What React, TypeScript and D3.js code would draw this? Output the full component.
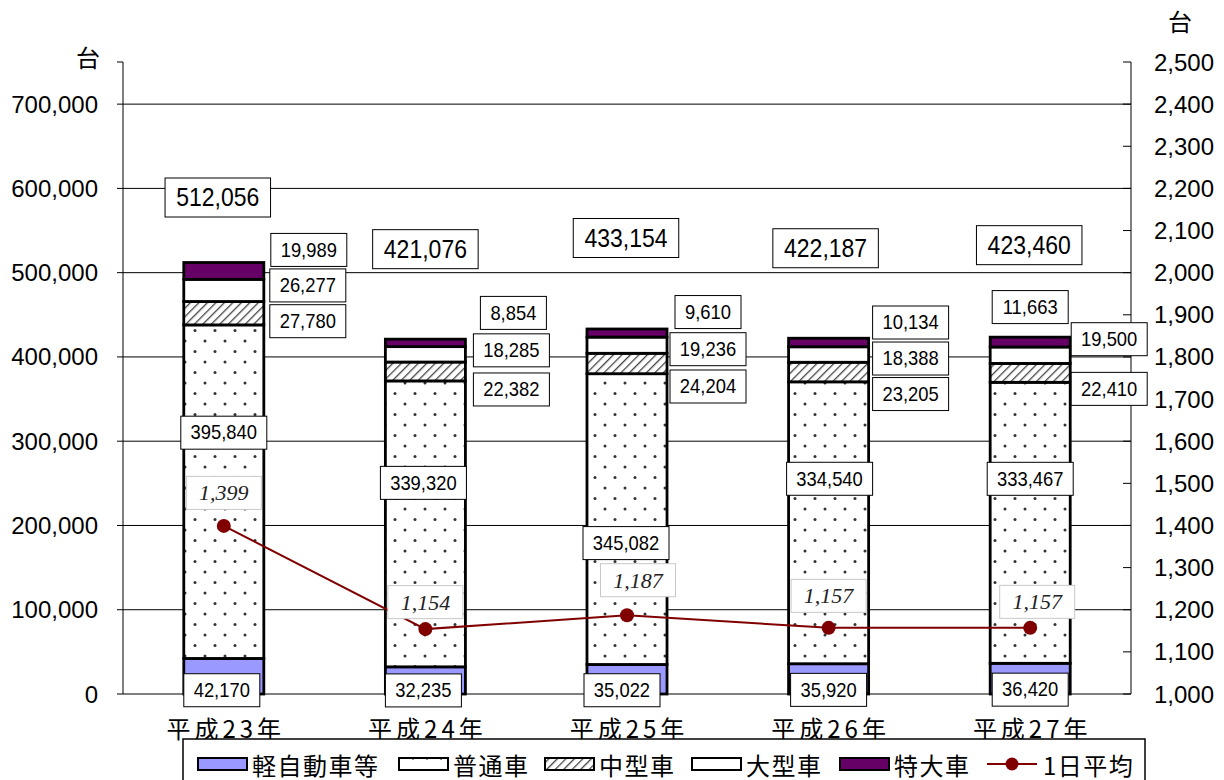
import React from "react";
import * as d3 from "d3";

// ---- data ----
const years = ["平成23年", "平成24年", "平成25年", "平成26年", "平成27年"];
const keiJidosha = [42170, 32235, 35022, 35920, 36420];
const futsusha = [395840, 339320, 345082, 334540, 333467];
const chugata = [27780, 22382, 24204, 23205, 22410];
const ogata = [26277, 18285, 19236, 18388, 19500];
const tokudai = [19989, 8854, 9610, 10134, 11663];
const dailyAvg = [1399, 1154, 1187, 1157, 1157];
const leftTicks = [0, 100000, 200000, 300000, 400000, 500000, 600000, 700000];
const rightTicks = [1000, 1100, 1200, 1300, 1400, 1500, 1600, 1700, 1800, 1900, 2000, 2100, 2200, 2300, 2400, 2500];
const seriesNames = ["軽自動車等", "普通車", "中型車", "大型車", "特大車"];
const lineName = "1日平均";

// ---- layout (label nudges, px) ----
const segNudge: [number, number][][] = [
  [[-2, 14], [-2, 10], [-5, 11], [0, 11], [0, 11]],
  [[0, -59], [-2, -41], [-1, 24], [1, -44], [0, -44]],
  [[84, 8], [86, 18], [81, 23], [82, 22], [79, 16]],
  [[84, -5], [86, -4], [81, 4], [82, 4], [79, -16]],
  [[85, -21], [88, -30], [81, -21], [82, -20], [0, -35]],
];
const totalNudge: [number, number][] = [[-6, -65], [0, -90], [-1, -91], [-3, -90], [-1, -92]];
const avgNudge: [number, number][] = [[0, -33], [0, -27], [11, -35], [0, -32], [7, -26]];
const legendX = [198, 399, 545, 692, 840, 987];

const W = 1224, H = 780;
const M = { left: 123, right: 1131, top: 62, bottom: 694 };
const NUM_FONT = "'Liberation Sans', Arial, sans-serif";
const JP_FONT = "'Noto Sans CJK JP', 'Noto Sans', sans-serif";

const fmt = d3.format(",");

function Box({ x, y, text, fs, h, pad, stroke, italic }: any) {
  const w = text.length * fs * 0.5 + pad * 2;
  return (
    <g>
      <rect x={x - w / 2} y={y - h / 2} width={w} height={h} fill="#fff" stroke={stroke} strokeWidth={1} />
      <text
        x={x}
        y={y}
        textAnchor="middle"
        dominantBaseline="central"
        fontSize={fs}
        fontFamily={italic ? "'Liberation Serif', 'Times New Roman', serif" : NUM_FONT}
        fontStyle={italic ? "italic" : "normal"}
        fill={italic ? "#222" : "#000"}
        transform={italic ? undefined : `translate(${x},${y}) scale(0.92,1) translate(${-x},${-y})`}
      >
        {text}
      </text>
    </g>
  );
}

export default function App() {
  const series = [keiJidosha, futsusha, chugata, ogata, tokudai];
  const fills = ["#9999ff", "url(#dots)", "url(#hatch)", "#ffffff", "#660066"];

  const x = d3.scaleBand<string>().domain(years).range([M.left, M.right]).padding(0);
  const barW = x.bandwidth() * 0.397;
  const cx = (i: number) => (x(years[i]) as number) + x.bandwidth() / 2;
  const yL = d3.scaleLinear().domain([0, 750000]).range([M.bottom, M.top]);
  const yR = d3.scaleLinear().domain([1000, 2500]).range([M.bottom, M.top]);

  const stackData = years.map((_, i) => {
    const o: any = {};
    series.forEach((s, k) => (o["s" + k] = s[i]));
    return o;
  });
  const stack = d3.stack<any>().keys(series.map((_, k) => "s" + k))(stackData);

  const line = d3
    .line<number>()
    .x((_, i) => cx(i))
    .y((d) => yR(d));

  return (
    <svg width={W} height={H} style={{ position: "absolute", left: 0, top: 0 }}>
      <defs>
        <pattern id="dots" width={20} height={21} patternUnits="userSpaceOnUse">
          <rect width={20} height={21} fill="#fff" />
          <circle cx={5} cy={5} r={1.5} fill="#333" />
          <circle cx={15} cy={15.5} r={1.5} fill="#333" />
        </pattern>
        <pattern id="hatch" width={6} height={6} patternUnits="userSpaceOnUse" patternTransform="rotate(45)">
          <rect width={6} height={6} fill="#fff" />
          <line x1={0} y1={0} x2={0} y2={6} stroke="#444" strokeWidth={2.6} />
        </pattern>
        <pattern id="dotsLeg" width={14} height={12} patternUnits="userSpaceOnUse">
          <rect width={14} height={12} fill="#fff" />
          <circle cx={7} cy={3} r={0.9} fill="#555" />
        </pattern>
      </defs>
      <rect width={W} height={H} fill="#fff" />

      {/* gridlines */}
      {leftTicks.slice(1).map((t) => (
        <line key={t} x1={M.left} x2={M.right} y1={yL(t)} y2={yL(t)} stroke="#000" strokeWidth={1} />
      ))}

      {/* axes */}
      <line x1={M.left} x2={M.left} y1={M.top} y2={M.bottom} stroke="#000" strokeWidth={1} />
      <line x1={M.right} x2={M.right} y1={M.top} y2={M.bottom} stroke="#000" strokeWidth={1} />
      {leftTicks.map((t) => (
        <g key={"l" + t}>
          <line x1={M.left - 6} x2={M.left} y1={yL(t)} y2={yL(t)} stroke="#000" />
          <text x={98} y={yL(t)} textAnchor="end" dominantBaseline="central" fontSize={24} fontFamily={NUM_FONT}>
            {fmt(t)}
          </text>
        </g>
      ))}
      <line x1={M.left - 6} x2={M.left} y1={M.top} y2={M.top} stroke="#000" />
      {rightTicks.map((t) => (
        <g key={"r" + t}>
          <line x1={M.right - 8} x2={M.right} y1={yR(t)} y2={yR(t)} stroke="#000" />
          <text x={1154} y={yR(t)} dominantBaseline="central" fontSize={24} fontFamily={NUM_FONT}>
            {fmt(t)}
          </text>
        </g>
      ))}
      <text x={88} y={56} textAnchor="middle" dominantBaseline="central" fontSize={24} fontFamily={JP_FONT}>
        台
      </text>
      <text x={1180} y={20} textAnchor="middle" dominantBaseline="central" fontSize={24} fontFamily={JP_FONT}>
        台
      </text>

      {/* bars */}
      {stack.map((layer, k) =>
        layer.map((d, i) => (
          <rect
            key={k + "-" + i}
            x={cx(i) - barW / 2}
            y={yL(d[1])}
            width={barW}
            height={yL(d[0]) - yL(d[1])}
            fill={fills[k]}
            stroke="#000"
            strokeWidth={2.8}
          />
        ))
      )}

      {/* x axis line */}
      <line x1={M.left} x2={M.right} y1={M.bottom} y2={M.bottom} stroke="#000" strokeWidth={1} />

      {/* line */}
      <path d={line(dailyAvg) || ""} fill="none" stroke="#800000" strokeWidth={2} />
      {dailyAvg.map((v, i) => (
        <circle key={"p" + i} cx={cx(i)} cy={yR(v)} r={7} fill="#800000" />
      ))}

      {/* segment labels */}
      {stack.map((layer, k) =>
        layer.map((d, i) => (
          <Box
            key={"lb" + k + "-" + i}
            x={cx(i) + segNudge[k][i][0]}
            y={(yL(d[0]) + yL(d[1])) / 2 + segNudge[k][i][1]}
            text={fmt(series[k][i])}
            fs={20}
            h={33}
            pad={8}
            stroke="#000"
          />
        ))
      )}

      {/* totals */}
      {years.map((_, i) => {
        const tot = series.reduce((a, s) => a + s[i], 0);
        return (
          <Box
            key={"t" + i}
            x={cx(i) + totalNudge[i][0]}
            y={yL(tot) + totalNudge[i][1]}
            text={fmt(tot)}
            fs={25}
            h={39}
            pad={9}
            stroke="#000"
          />
        );
      })}

      {/* avg labels */}
      {dailyAvg.map((v, i) => (
        <Box
          key={"a" + i}
          x={cx(i) + avgNudge[i][0]}
          y={yR(v) + avgNudge[i][1]}
          text={fmt(v)}
          fs={22}
          h={33}
          pad={10}
          stroke="#c8c8c8"
          italic
        />
      ))}

      {/* x labels */}
      {years.map((yname, i) => (
        <text
          key={"x" + i}
          x={cx(i) + 2}
          y={727}
          textAnchor="middle"
          dominantBaseline="central"
          fontSize={24}
          letterSpacing={4}
          fontFamily={JP_FONT}
        >
          {yname}
        </text>
      ))}

      {/* legend */}
      <rect x={183} y={739} width={962} height={60} fill="#fff" stroke="#000" strokeWidth={1.5} />
      {seriesNames.map((n, k) => (
        <g key={"lg" + k}>
          <rect
            x={legendX[k]}
            y={758}
            width={49}
            height={12}
            fill={k === 1 ? "url(#dotsLeg)" : fills[k]}
            stroke="#000"
            strokeWidth={2}
          />
          <text x={legendX[k] + 54} y={764} dominantBaseline="central" fontSize={24} letterSpacing={1.5} fontFamily={JP_FONT}>
            {n}
          </text>
        </g>
      ))}
      <line x1={legendX[5]} x2={legendX[5] + 50} y1={764} y2={764} stroke="#800000" strokeWidth={2} />
      <circle cx={legendX[5] + 25} cy={764} r={6.5} fill="#800000" />
      <text x={legendX[5] + 56} y={764} dominantBaseline="central" fontSize={24} letterSpacing={1.5} fontFamily={JP_FONT}>
        {lineName}
      </text>
    </svg>
  );
}
